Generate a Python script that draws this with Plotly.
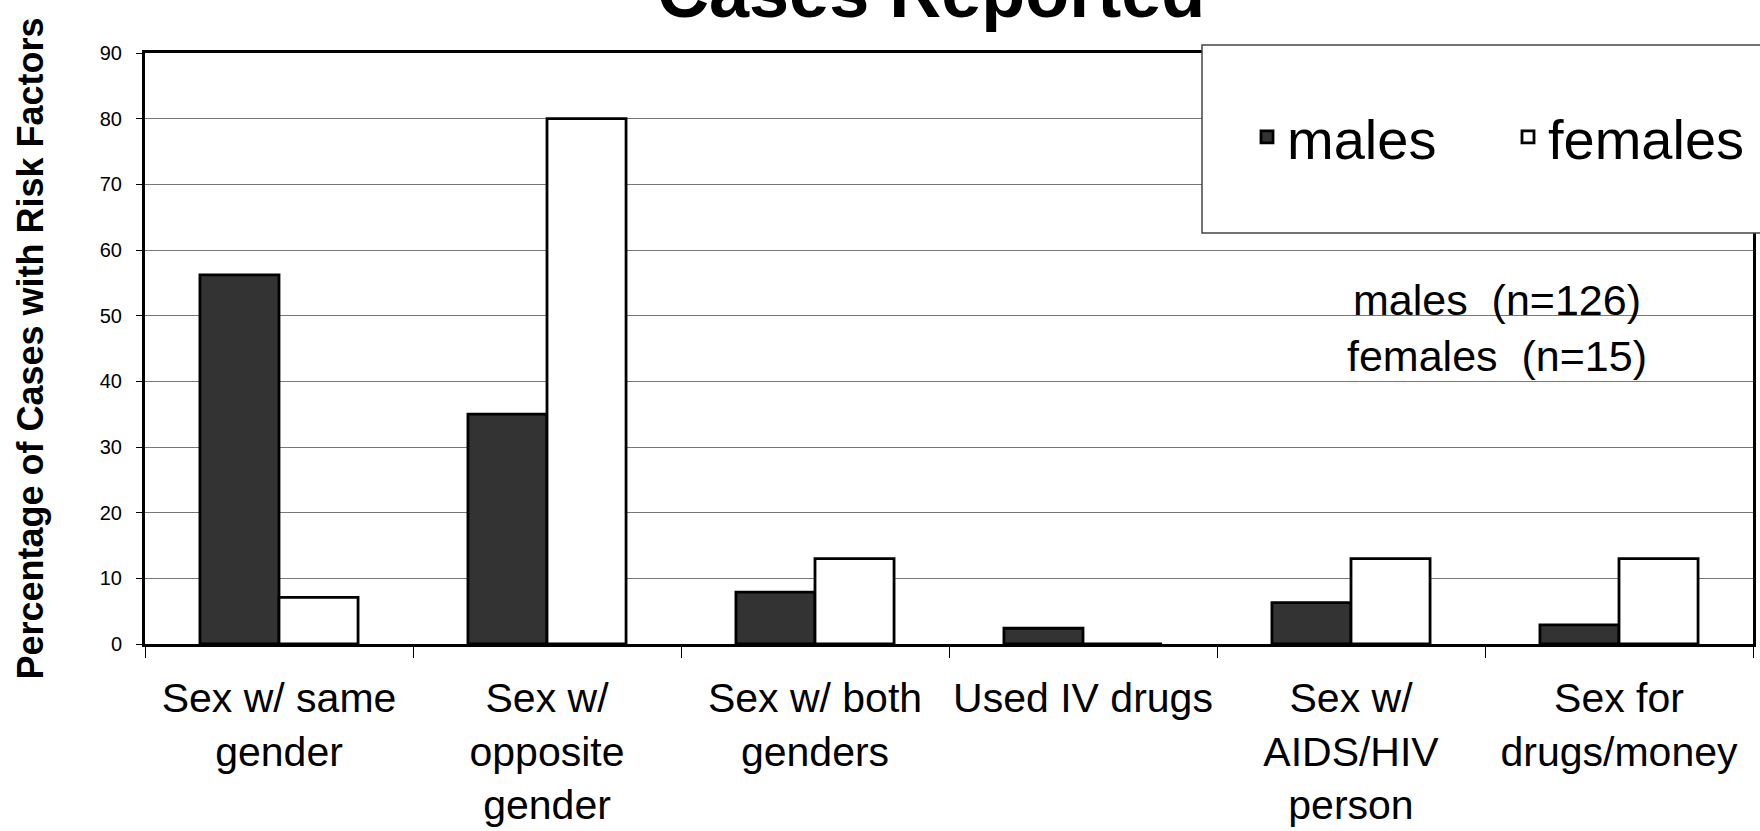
import plotly.graph_objects as go

categories = [
    "Sex w/ same<br>gender",
    "Sex w/<br>opposite<br>gender",
    "Sex w/ both<br>genders",
    "Used IV drugs",
    "Sex w/<br>AIDS/HIV<br>person",
    "Sex for<br>drugs/money",
]
males = [56.2, 35.0, 7.9, 2.4, 6.3, 2.9]
females = [7.1, 80.0, 13.0, 0.0, 13.0, 13.0]
y_ticks = [0, 10, 20, 30, 40, 50, 60, 70, 80, 90]

FONT = "Liberation Sans, Arial, sans-serif"
W, H = 1760, 831
ML, MR, MT, MB = 145, 7, 53, 187
PW, PH = W - ML - MR, H - MT - MB


def px_x(x):
    return (x - ML) / PW


def px_y(y):
    return 1 - (y - MT) / PH


fig = go.Figure()
fig.add_trace(go.Bar(
    name="males", x=categories, y=males,
    marker=dict(color="#333333", line=dict(color="black", width=2.8)),
))
fig.add_trace(go.Bar(
    name="females", x=categories, y=females,
    marker=dict(color="white", line=dict(color="black", width=2.8)),
))

fig.update_layout(
    width=W, height=H,
    margin=dict(l=ML, r=MR, t=MT, b=MB, autoexpand=False),
    paper_bgcolor="white", plot_bgcolor="white",
    barmode="group", bargap=0.41, bargroupgap=0,
    font=dict(family=FONT, color="black"),
    showlegend=True,
    legend=dict(
        orientation="h", x=px_x(1247), y=px_y(137), xanchor="left", yanchor="middle",
        font=dict(size=56, family=FONT), bgcolor="rgba(0,0,0,0)", borderwidth=0,
        entrywidth=216, entrywidthmode="pixels",
    ),
    xaxis=dict(
        showline=True, linecolor="black", linewidth=3, mirror=True,
        ticks="outside", tickson="boundaries", ticklen=11, tickcolor="black", tickwidth=1,
        tickfont=dict(size=41, family=FONT), ticklabelstandoff=16, tickangle=0,
        showgrid=False, automargin=False,
    ),
    yaxis=dict(
        range=[0, 90], tickvals=y_ticks, showline=True, linecolor="black", linewidth=3,
        mirror=True, ticks="outside", ticklen=6, tickcolor="black", tickwidth=1,
        tickfont=dict(size=20, family=FONT), ticklabelstandoff=10,
        showgrid=True, gridcolor="#777777", gridwidth=1, zeroline=False,
        title=dict(text="<b>Percentage of Cases with Risk Factors</b>",
                   font=dict(size=36, family=FONT), standoff=46),
        automargin=False,
    ),
    shapes=[dict(
        type="rect", xref="paper", yref="paper",
        x0=px_x(1202), x1=px_x(1775), y0=px_y(233), y1=px_y(45),
        fillcolor="white", line=dict(color="#444444", width=1.5), layer="above",
    )],
    annotations=[
        dict(text="<b>Cases Reported</b>", xref="paper", yref="paper",
             x=px_x(931), y=px_y(-8), xanchor="center", yanchor="middle",
             showarrow=False, font=dict(size=72, family=FONT)),
        dict(text="males  (n=126)<br>females  (n=15)", xref="paper", yref="paper",
             x=px_x(1497), y=px_y(328), xanchor="center", yanchor="middle",
             showarrow=False, align="center", font=dict(size=43, family=FONT)),
    ],
)

fig.write_html("out.html", config={"displayModeBar": False},
               post_script="document.body.style.margin='0';")
